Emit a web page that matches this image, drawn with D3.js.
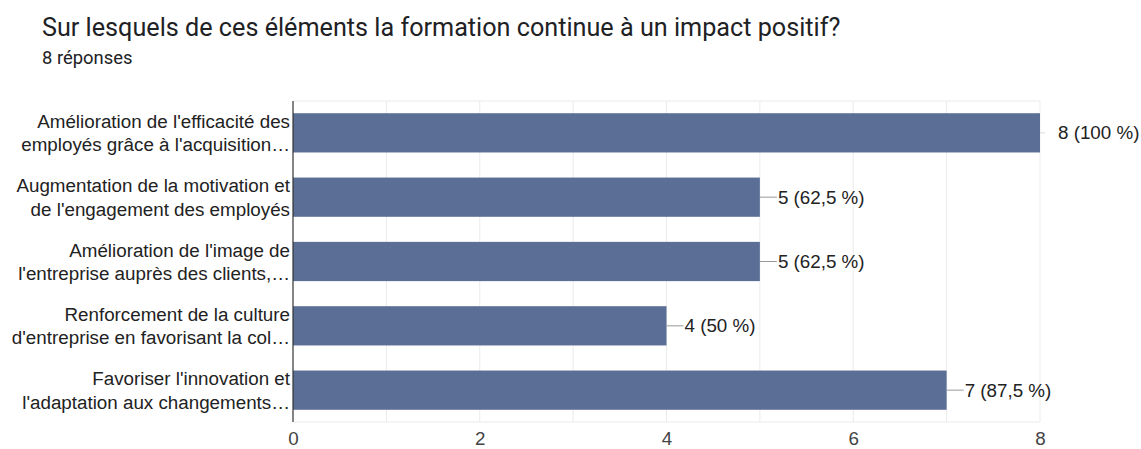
<!DOCTYPE html>
<html lang="fr">
<head>
<meta charset="utf-8">
<script src="https://cdn.jsdelivr.net/npm/d3@7"></script>
<style>
  html, body { margin: 0; padding: 0; background: #fff; overflow: hidden; }
  svg { display: block; }
</style>
</head>
<body>
<svg id="chart" width="1141" height="449"></svg>
<script>
// Survey question and response count
const title = "Sur lesquels de ces éléments la formation continue à un impact positif?";
const subtitle = "8 réponses";
const totalResponses = 8;

// Answer options (each split over two lines, as displayed)
const categories = [
  ["Amélioration de l'efficacité des", "employés grâce à l'acquisition…"],
  ["Augmentation de la motivation et", "de l'engagement des employés"],
  ["Amélioration de l'image de", "l'entreprise auprès des clients,…"],
  ["Renforcement de la culture", "d'entreprise en favorisant la col…"],
  ["Favoriser l'innovation et", "l'adaptation aux changements…"]
];

// Number of respondents choosing each option
const counts = [8, 5, 5, 4, 7];

// Axis ticks
const xTicks = [0, 2, 4, 6, 8];
const gridValues = [1, 2, 3, 4, 5, 6, 7, 8];

const svg = d3.select("#chart");
const margin = { left: 293, right: 101, top: 101, bottom: 27 };
const W = 1141, H = 449;
const labelFont = "'Liberation Sans', Arial, sans-serif";
const labelSize = 18.8;

const x = d3.scaleLinear().domain([0, 8]).range([margin.left, W - margin.right]);
const y = d3.scaleBand()
  .domain(d3.range(categories.length))
  .range([margin.top, H - margin.bottom])
  .paddingInner(0.39)
  .paddingOuter(0.19);

// Title block
svg.append("text")
  .attr("x", 42).attr("y", 36)
  .attr("font-family", "Roboto, 'Noto Sans', sans-serif")
  .attr("font-size", 25.2)
  .attr("fill", "#202124")
  .text(title);
svg.append("text")
  .attr("x", 42).attr("y", 64)
  .attr("font-family", "Roboto, 'Noto Sans', sans-serif")
  .attr("font-size", 18.4)
  .attr("fill", "#202124")
  .text(subtitle);

// Gridlines
svg.append("g").selectAll("line")
  .data(gridValues)
  .join("line")
  .attr("x1", d => x(d)).attr("x2", d => x(d))
  .attr("y1", margin.top).attr("y2", H - margin.bottom)
  .attr("stroke", "#ebebeb")
  .attr("stroke-width", 1);

// Top and bottom frame lines
svg.append("g").selectAll("line")
  .data([margin.top, H - margin.bottom])
  .join("line")
  .attr("x1", x(0)).attr("x2", x(8))
  .attr("y1", d => d).attr("y2", d => d)
  .attr("stroke", "#ebebeb");

// Bars
svg.append("g").selectAll("rect")
  .data(counts)
  .join("rect")
  .attr("x", x(0))
  .attr("y", (d, i) => y(i))
  .attr("width", d => x(d) - x(0))
  .attr("height", y.bandwidth())
  .attr("fill", "#5b6e96");

// Value annotations with connector stubs
const fmt = v => {
  const pct = v / totalResponses * 100;
  return `${v} (${String(+pct.toFixed(1)).replace(".", ",")} %)`;
};
const ann = svg.append("g");
counts.forEach((v, i) => {
  const cy = y(i) + y.bandwidth() / 2;
  ann.append("line")
    .attr("x1", x(v)).attr("x2", x(v) + (v === 8 ? 5 : 17))
    .attr("y1", cy).attr("y2", cy)
    .attr("stroke", v === 8 ? "#dddddd" : "#999999")
    .attr("stroke-width", 1);
  ann.append("text")
    .attr("x", x(v) + 18)
    .attr("y", cy + 6.5)
    .attr("font-family", labelFont)
    .attr("font-size", labelSize)
    .attr("fill", "#222")
    .text(fmt(v));
});

// Category labels (two lines, right-aligned)
const labels = svg.append("g")
  .attr("font-family", labelFont)
  .attr("font-size", labelSize)
  .attr("fill", "#222")
  .attr("text-anchor", "end");
categories.forEach((lines, i) => {
  const cy = y(i) + y.bandwidth() / 2;
  lines.forEach((t, j) => {
    labels.append("text")
      .attr("x", 290)
      .attr("y", cy - 5 + j * 23.5)
      .text(t);
  });
});

// Left axis line
svg.append("line")
  .attr("x1", x(0)).attr("x2", x(0))
  .attr("y1", margin.top).attr("y2", H - margin.bottom)
  .attr("stroke", "#333")
  .attr("stroke-width", 1.2);

// Bottom tick labels
const xAxis = d3.axisBottom(x).tickValues(xTicks).tickSize(0).tickPadding(0);
const gx = svg.append("g")
  .attr("transform", `translate(0, ${H - 4})`)
  .call(xAxis);
gx.select(".domain").remove();
gx.selectAll("text")
  .attr("font-family", labelFont)
  .attr("font-size", labelSize)
  .attr("fill", "#444")
  .attr("y", 0)
  .attr("dy", 0);
</script>
</body>
</html>
